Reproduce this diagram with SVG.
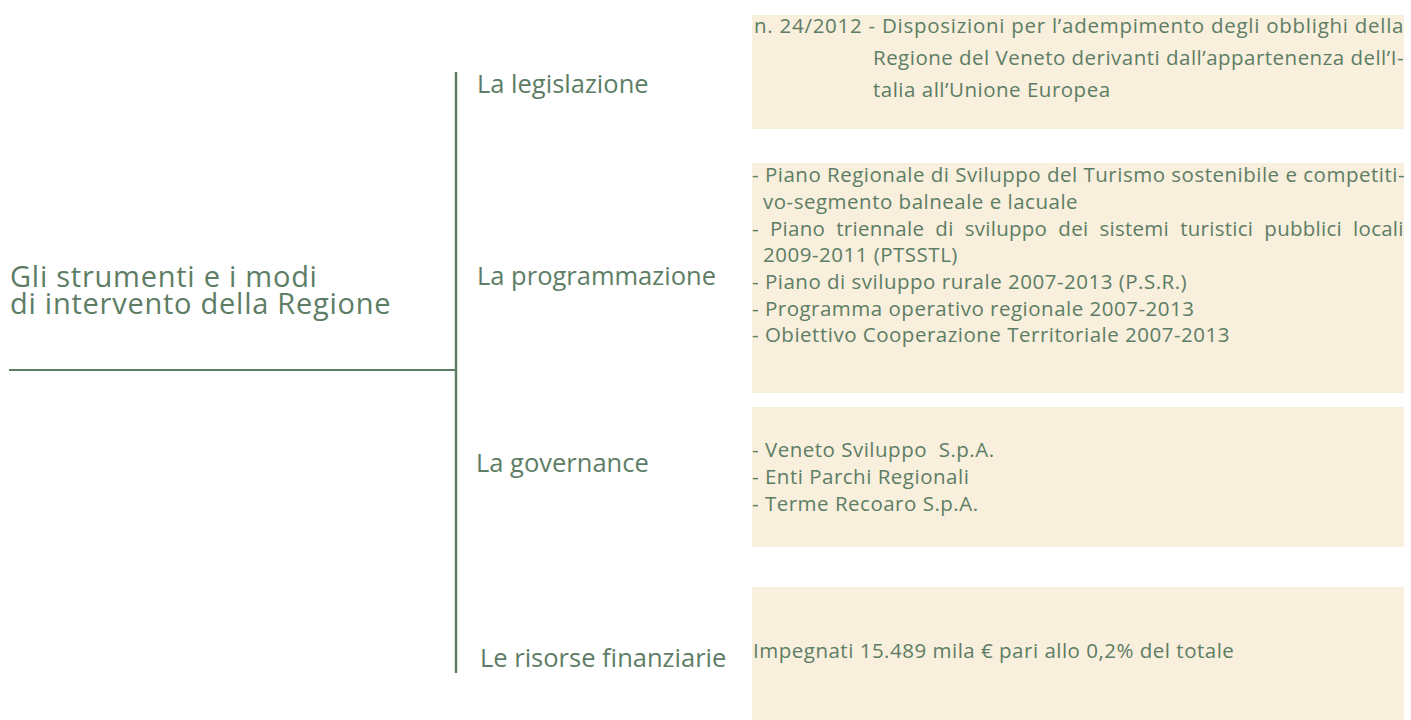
<svg xmlns="http://www.w3.org/2000/svg" width="1411" height="720" viewBox="0 0 1411 720">
  <style>
    text { font-family: "Open Sans", "Noto Sans", "DejaVu Sans", sans-serif; fill: #5d7d65; white-space: pre; }
    .title { font-size: 29px; letter-spacing: 0.75px; }
    .label { font-size: 25.5px; }
    .b1 { font-size: 20.5px; letter-spacing: 0.5px; }
    .bt { font-size: 20.5px; letter-spacing: 0.5px; }
    .box { fill: #f8efdc; }
    .conn { stroke: #5d7d65; fill: none; }
  </style>
  <rect width="1411" height="720" fill="#ffffff"/>

  <g id="connectors">
    <line class="conn" x1="9" y1="370" x2="457" y2="370" stroke-width="2"/>
    <line class="conn" x1="456" y1="72" x2="456" y2="673" stroke-width="2.5"/>
  </g>

  <g id="root">
    <text class="title" x="10" y="287">Gli strumenti e i modi</text>
    <text class="title" x="10" y="314">di intervento della Regione</text>
  </g>

  <g id="legislazione">
    <text class="label" x="477" y="93">La legislazione</text>
    <rect class="box" x="752" y="15" width="652" height="114"/>
    <text class="b1" x="754" y="33" textLength="650" lengthAdjust="spacing">n. 24/2012 - Disposizioni per l’adempimento degli obblighi della</text>
    <text class="b1" x="873" y="65" textLength="531" lengthAdjust="spacing">Regione del Veneto derivanti dall’appartenenza dell’I-</text>
    <text class="b1" x="873" y="97">talia all’Unione Europea</text>
  </g>

  <g id="programmazione">
    <text class="label" x="477" y="285">La programmazione</text>
    <rect class="box" x="752" y="163" width="652" height="230"/>
    <text class="bt" x="752" y="182" textLength="653" lengthAdjust="spacing">- Piano Regionale di Sviluppo del Turismo sostenibile e competiti-</text>
    <text class="bt" x="763" y="209">vo-segmento balneale e lacuale</text>
    <text class="bt" x="752" y="235.5" textLength="652" lengthAdjust="spacing">-  Piano  triennale  di  sviluppo  dei  sistemi  turistici  pubblici  locali</text>
    <text class="bt" x="763" y="262">2009-2011 (PTSSTL)</text>
    <text class="bt" x="752" y="289">- Piano di sviluppo rurale 2007-2013 (P.S.R.)</text>
    <text class="bt" x="752" y="315.5">- Programma operativo regionale 2007-2013</text>
    <text class="bt" x="752" y="342">- Obiettivo Cooperazione Territoriale 2007-2013</text>
  </g>

  <g id="governance">
    <text class="label" x="476" y="472">La governance</text>
    <rect class="box" x="752" y="407" width="652" height="140"/>
    <text class="bt" x="752" y="457">- Veneto Sviluppo  S.p.A.</text>
    <text class="bt" x="752" y="484">- Enti Parchi Regionali</text>
    <text class="bt" x="752" y="511">- Terme Recoaro S.p.A.</text>
  </g>

  <g id="risorse">
    <text class="label" x="480" y="667">Le risorse finanziarie</text>
    <rect class="box" x="752" y="587" width="652" height="133"/>
    <text class="bt" x="753" y="658">Impegnati 15.489 mila € pari allo 0,2% del totale</text>
  </g>
</svg>
